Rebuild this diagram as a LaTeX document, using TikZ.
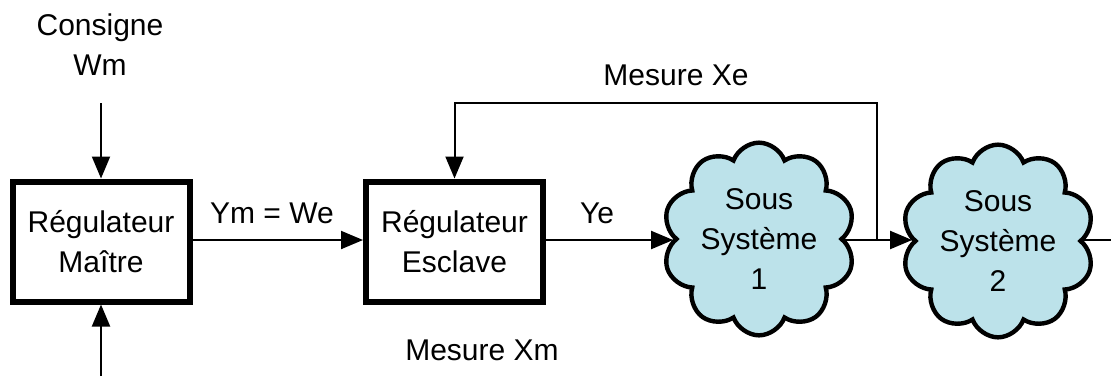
\documentclass[tikz,border=0pt]{standalone}
\usepackage{fontspec}
\setmainfont{Liberation Sans}
\usetikzlibrary{shapes.symbols,arrows.meta}
\definecolor{cloudfill}{HTML}{BCE2EA}
\begin{document}
\begin{tikzpicture}[x=0.5pt,y=-0.5pt,
  txt/.style={font=\fontsize{15}{20}\selectfont, align=center, inner sep=0pt},
  blk/.style={txt, draw, line width=3pt, minimum width=88.5pt, minimum height=60pt},
  cld/.style={txt, cloud, cloud puffs=10, cloud puff arc=140, aspect=1, draw, line width=2.2pt,
     fill=cloudfill, minimum width=93pt, minimum height=93pt},
  conn/.style={line width=1pt, -{Triangle[length=11pt,width=9pt]}},
  plain/.style={line width=1pt}]
\useasboundingbox (0,0) rectangle (1111,376);
\node[blk] (master) at (101,241.5) {Régulateur\\Maître};
\node[blk] (slave) at (454.5,241.5) {Régulateur\\Esclave};
\node[cld] (s1) at (759,239) {Sous\\Système\\1};
\node[cld] (s2) at (998,241) {Sous\\Système\\2};
\node[txt] (cons) at (100,45) {Consigne\\Wm};
\node[txt] (ymwe) at (272,213) {Ym = We};
\node[txt] (ye) at (597,213) {Ye};
\node[txt] (mxe) at (676,75) {Mesure Xe};
\node[txt] (mxm) at (482,350) {Mesure Xm};
\coordinate (constop) at (101,103);
\coordinate (bot) at (101,376);
\coordinate (junc) at (877,240);
\coordinate (fbtop) at (877,103);
\coordinate (out) at (1111,240);
\draw[conn] (constop) -- (master.north);
\draw[conn] (bot) -- (master.south);
\draw[conn] (master.east |- 0,240) -- (slave.west |- 0,240);
\draw[conn] (slave.east |- 0,240) -- (s1.west |- 0,240);
\draw[conn] (s1.east |- 0,240) -- (s2.west |- 0,240);
\draw[conn] (junc) -- (fbtop) -| (slave.north);
\draw[plain] (s2.east |- 0,240) -- (out);
\end{tikzpicture}
\end{document}
